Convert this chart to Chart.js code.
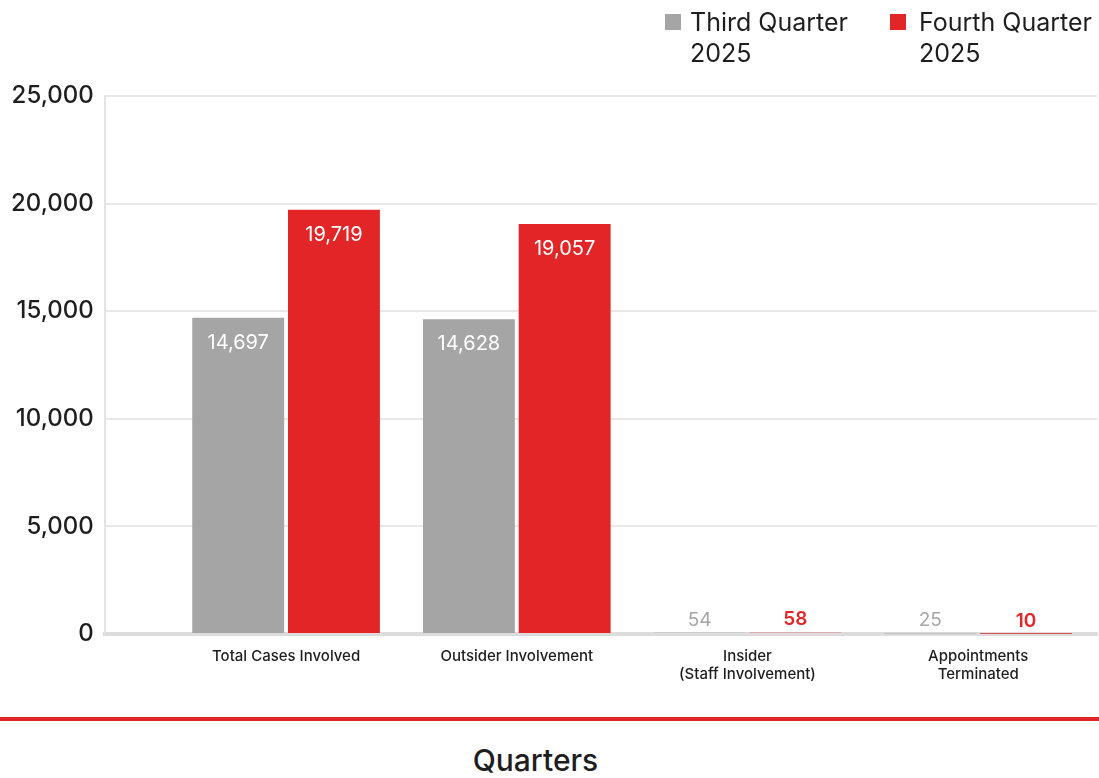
<!DOCTYPE html>
<html>
<head>
<meta charset="utf-8">
<script src="https://cdn.jsdelivr.net/npm/chart.js@4.4.1/dist/chart.umd.min.js"></script>
<style>
  html, body { margin: 0; padding: 0; background: #fff; }
  #wrap { position: relative; width: 1099px; height: 778px; font-family: Inter, "Open Sans", sans-serif; color: #1e1e1e; }
  #chartBox { position: absolute; left: 0; top: 0; width: 1099px; height: 700px; }
  .legend { position: absolute; top: 7px; font-size: 25px; line-height: 31px; }
  .legend .sw { position: absolute; left: 0; top: 7px; width: 16px; height: 16px; }
  #divider { position: absolute; left: 0; top: 717px; width: 1099px; height: 4px; background: #e0262b; }
  #xTitle { position: absolute; left: 0; width: 1071px; top: 742px; text-align: center; font-size: 30px; font-weight: 500; }
</style>
</head>
<body>
<div id="wrap">
  <div id="chartBox"><canvas id="casesChart"></canvas></div>
  <div class="legend" id="leg0" style="left:665px"><span class="sw"></span><div class="tx" style="margin-left:25px"></div></div>
  <div class="legend" id="leg1" style="left:890px"><span class="sw"></span><div class="tx" style="margin-left:29px"></div></div>
  <div id="divider"></div>
  <div id="xTitle">Quarters</div>
</div>
<script>
// ---- data ----
const categories = [
  ['Total Cases Involved'],
  ['Outsider Involvement'],
  ['Insider', '(Staff Involvement)'],
  ['Appointments', 'Terminated']
];
const seriesNames = [['Third Quarter', '2025'], ['Fourth Quarter', '2025']];
const thirdQuarter = [14697, 14628, 54, 25];
const fourthQuarter = [19719, 19057, 58, 10];
const yTicks = [0, 5000, 10000, 15000, 20000, 25000];

const colors = ['#a5a5a5', '#e22628'];
const fontFamily = 'Inter, "Open Sans", sans-serif';

// legend (html, two-line labels)
seriesNames.forEach((name, i) => {
  const el = document.getElementById('leg' + i);
  el.querySelector('.sw').style.background = colors[i];
  el.querySelector('.tx').innerHTML = name.join('<br>');
});

// value labels: inside the top of tall bars, above the short ones
const valueLabels = {
  id: 'valueLabels',
  afterDatasetsDraw(chart) {
    const ctx = chart.ctx;
    ctx.save();
    ctx.textAlign = 'center';
    ctx.textBaseline = 'middle';
    chart.data.datasets.forEach((ds, i) => {
      const meta = chart.getDatasetMeta(i);
      meta.data.forEach((bar, j) => {
        const txt = ds.data[j].y.toLocaleString('en-US');
        if (bar.base - bar.y > 40) {
          ctx.fillStyle = '#ffffff';
          ctx.font = '400 20px ' + fontFamily;
          ctx.fillText(txt, bar.x, bar.y + 25);
        } else {
          ctx.fillStyle = colors[i];
          ctx.font = (i === 1 ? '600 ' : '400 ') + '19px ' + fontFamily;
          ctx.fillText(txt, bar.x, bar.y - 13);
        }
      });
    });
    ctx.restore();
  }
};

// numeric x axis so the groups can sit off-centre in the plot
const toPoints = arr => arr.map((v, i) => ({ x: i, y: v }));

new Chart(document.getElementById('casesChart'), {
  type: 'bar',
  data: {
    datasets: [
      { label: seriesNames[0].join(' '), data: toPoints(thirdQuarter), backgroundColor: colors[0] },
      { label: seriesNames[1].join(' '), data: toPoints(fourthQuarter), backgroundColor: colors[1] }
    ]
  },
  options: {
    responsive: true,
    maintainAspectRatio: false,
    animation: false,
    layout: { padding: { top: 96, right: 2, left: 0, bottom: 4 } },
    datasets: { bar: { categoryPercentage: 0.83, barPercentage: 0.96 } },
    plugins: {
      legend: { display: false },
      tooltip: { enabled: false }
    },
    scales: {
      x: {
        type: 'linear',
        min: -0.786,
        max: 3.515,
        offset: false,
        z: 1,
        afterBuildTicks(axis) {
          axis.ticks = categories.map((c, i) => ({ value: i }));
        },
        grid: { display: false, drawTicks: false },
        border: { color: '#dcdcdc', width: 4 },
        ticks: {
          color: '#1e1e1e',
          padding: 13,
          font: { family: fontFamily, size: 15, weight: '500', lineHeight: 1.2 },
          callback: v => categories[v]
        }
      },
      y: {
        min: 0,
        max: 25000,
        afterBuildTicks(axis) {
          axis.ticks = yTicks.map(v => ({ value: v }));
        },
        grid: { color: '#e8e8e8', lineWidth: 2, drawTicks: false },
        border: { color: '#e4e4e4', width: 2 },
        ticks: {
          color: '#1e1e1e',
          padding: 11,
          font: { family: fontFamily, size: 24, weight: '500' },
          callback: v => v.toLocaleString('en-US')
        }
      }
    }
  },
  plugins: [valueLabels]
});
</script>
</body>
</html>
